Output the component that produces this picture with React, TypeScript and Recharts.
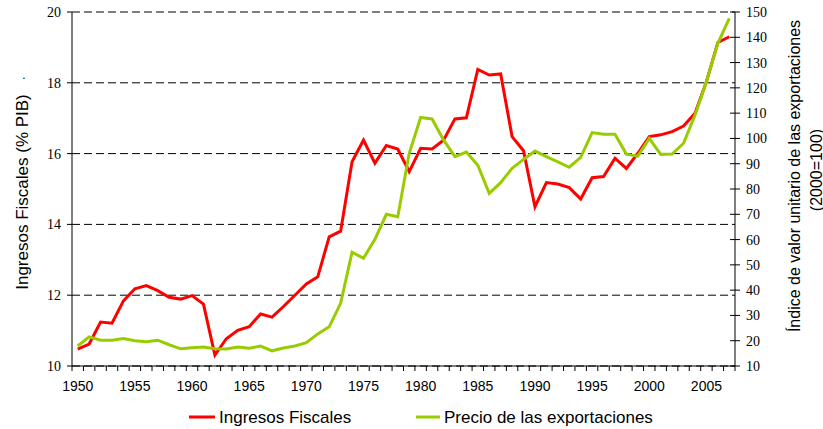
import { LineChart, Line, XAxis, YAxis, CartesianGrid, Legend } from "recharts";

const years = [
  1950, 1951, 1952, 1953, 1954, 1955, 1956, 1957, 1958, 1959,
  1960, 1961, 1962, 1963, 1964, 1965, 1966, 1967, 1968, 1969,
  1970, 1971, 1972, 1973, 1974, 1975, 1976, 1977, 1978, 1979,
  1980, 1981, 1982, 1983, 1984, 1985, 1986, 1987, 1988, 1989,
  1990, 1991, 1992, 1993, 1994, 1995, 1996, 1997, 1998, 1999,
  2000, 2001, 2002, 2003, 2004, 2005, 2006, 2007,
];

// Ingresos fiscales, % del PIB (eje izquierdo)
const ingresosFiscales = [
  10.48, 10.62, 11.24, 11.21, 11.84, 12.18, 12.27, 12.13, 11.94, 11.89,
  11.99, 11.75, 10.31, 10.77, 11.01, 11.11, 11.47, 11.38, 11.68, 12.0,
  12.32, 12.52, 13.65, 13.81, 15.77, 16.38, 15.73, 16.23, 16.13, 15.49,
  16.15, 16.13, 16.38, 16.98, 17.01, 18.38, 18.22, 18.25, 16.48, 16.08,
  14.5, 15.18, 15.14, 15.04, 14.72, 15.32, 15.35, 15.87, 15.58, 16.01,
  16.48, 16.53, 16.62, 16.78, 17.14, 18.03, 19.14, 19.3,
];

// Indice de valor unitario de las exportaciones, 2000=100 (eje derecho)
const precioExportaciones = [
  17.9, 21.5, 20.2, 20.2, 20.9, 20.0, 19.6, 20.2, 18.4, 16.8,
  17.2, 17.5, 16.8, 16.7, 17.5, 17.0, 17.9, 16.0, 17.1, 17.9,
  19.2, 22.7, 25.5, 34.8, 55.0, 52.6, 60.1, 70.0, 69.0, 94.1,
  108.3, 107.7, 99.4, 92.8, 94.6, 89.4, 78.3, 82.5, 88.2, 91.7,
  95.0, 92.8, 90.7, 88.6, 92.5, 102.3, 101.7, 101.7, 93.8, 93.0,
  100, 93.7, 93.8, 98.1, 109.2, 122.4, 137.6, 147.5,
];

const leftTicks = [10, 12, 14, 16, 18, 20];
const rightTicks = [10, 20, 30, 40, 50, 60, 70, 80, 90, 100, 110, 120, 130, 140, 150];
const labelYears = [1950, 1955, 1960, 1965, 1970, 1975, 1980, 1985, 1990, 1995, 2000, 2005];

const data = years.map((year, i) => ({
  year,
  ingresos: ingresosFiscales[i],
  precio: precioExportaciones[i],
}));

// tick marks sit between the years, labels on the years
const xTicks = [...years.map((y) => y - 0.5), years[years.length - 1] + 0.5, ...labelYears].sort(
  (a, b) => a - b
);

const SANS = "'Liberation Sans', Arial, sans-serif";
const SERIF = "'Liberation Serif', 'Times New Roman', serif";
const RED = "#ff0000";
const GREEN = "#99cc00";

function XTick(props: any) {
  const { x, y, payload } = props;
  const v = payload.value;
  if (Number.isInteger(v)) {
    return (
      <text x={x} y={y + 25} textAnchor="middle" fontSize={14} fontFamily={SANS} fill="#000">
        {v}
      </text>
    );
  }
  return <line x1={x} y1={y} x2={x} y2={y + 5} stroke="#000" />;
}

function RightTick(props: any) {
  const { x, y, payload } = props;
  return (
    <g>
      <line x1={x - 16} y1={y} x2={x - 6} y2={y} stroke="#000" />
      <text x={x} y={y} dy="0.355em" textAnchor="start" fontSize={14} fontFamily={SERIF} fill="#000">
        {payload.value}
      </text>
    </g>
  );
}

function LeftTitle() {
  return (
    <g>
      <text
        x={22}
        y={192}
        transform="rotate(-90 22 192)"
        textAnchor="middle"
        dominantBaseline="central"
        fontSize={17}
        fontFamily={SANS}
        fill="#000"
      >
        Ingresos Fiscales (% PIB)
      </text>
      <text x={24} y={79} textAnchor="middle" fontSize={12} fontFamily={SANS} fill="#000">
        .
      </text>
    </g>
  );
}

function RightTitle() {
  return (
    <g>
      <text
        x={794}
        y={176}
        transform="rotate(-90 794 176)"
        textAnchor="middle"
        dominantBaseline="central"
        fontSize={16}
        fontFamily={SANS}
        fill="#000"
      >
        Índice de valor unitario de las exportaciones
      </text>
      <text
        x={816}
        y={170}
        transform="rotate(-90 816 170)"
        textAnchor="middle"
        dominantBaseline="central"
        fontSize={16}
        fontFamily={SANS}
        fill="#000"
      >
        (2000=100)
      </text>
    </g>
  );
}

function LegendBox() {
  return (
    <svg width={823} height={30} style={{ display: "block" }}>
      <line x1={189} y1={18} x2={215} y2={18} stroke={RED} strokeWidth={3} />
      <text x={219} y={18} dominantBaseline="central" fontSize={17} fontFamily={SANS} fill="#000">
        Ingresos Fiscales
      </text>
      <line x1={416} y1={18} x2={440} y2={18} stroke={GREEN} strokeWidth={3} />
      <text x={444} y={18} dominantBaseline="central" fontSize={17} fontFamily={SANS} fill="#000">
        Precio de las exportaciones
      </text>
    </svg>
  );
}

export default function App() {
  return (
    <div style={{ position: "absolute", left: 0, top: 0, background: "#fff" }}>
      <LineChart width={823} height={429} data={data} margin={{ top: 12, right: 0, bottom: 0, left: 0 }}>
        <CartesianGrid yAxisId="left" vertical={false} stroke="#000" strokeDasharray="8 4" />
        <XAxis
          dataKey="year"
          type="number"
          domain={[1949.5, 2007.5]}
          ticks={xTicks}
          interval={0}
          height={33}
          tickSize={0}
          tickMargin={0}
          tickLine={false}
          tick={<XTick />}
          axisLine={{ stroke: "#000" }}
        />
        <YAxis
          yAxisId="left"
          orientation="left"
          width={72}
          domain={[10, 20]}
          ticks={leftTicks}
          interval={0}
          tickSize={5}
          tickMargin={6}
          tick={{ fill: "#000", fontSize: 14, fontFamily: SERIF }}
          tickLine={{ stroke: "#000" }}
          axisLine={{ stroke: "#000" }}
          label={<LeftTitle />}
        />
        <YAxis
          yAxisId="right"
          orientation="right"
          width={88}
          domain={[10, 150]}
          ticks={rightTicks}
          interval={0}
          tickSize={5}
          tickMargin={6}
          tickLine={false}
          tick={<RightTick />}
          axisLine={{ stroke: "#000" }}
          label={<RightTitle />}
        />
        <Legend verticalAlign="bottom" content={() => <LegendBox />} />
        <Line
          yAxisId="left"
          type="linear"
          dataKey="ingresos"
          name="Ingresos Fiscales"
          stroke={RED}
          strokeWidth={3}
          dot={false}
          activeDot={false}
          isAnimationActive={false}
        />
        <Line
          yAxisId="right"
          type="linear"
          dataKey="precio"
          name="Precio de las exportaciones"
          stroke={GREEN}
          strokeWidth={3}
          dot={false}
          activeDot={false}
          isAnimationActive={false}
        />
      </LineChart>
    </div>
  );
}
